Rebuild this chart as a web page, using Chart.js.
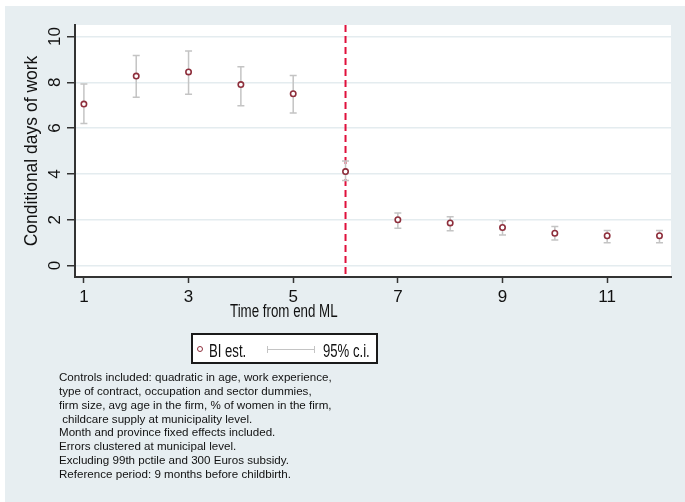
<!DOCTYPE html>
<html>
<head>
<meta charset="utf-8">
<script src="https://cdn.jsdelivr.net/npm/chart.js@4.4.1/dist/chart.umd.min.js"></script>
<style>
  html, body { margin: 0; padding: 0; background: #fff; }
  #wrap { position: relative; width: 685px; height: 502px; overflow: hidden; }
  #panel { position: absolute; left: 5px; top: 6px; width: 680px; height: 496px; background: #e7eef1; }
  #chart { position: absolute; left: 0; top: 0; }
  .sq { font-family: "Liberation Sans", Arial, sans-serif; color: #111; white-space: nowrap; line-height: 1; }
  #xtitle { position: absolute; left: 230px; top: 302px; font-size: 18px; transform: scaleX(0.74); transform-origin: 0 0; }
  #legend { position: absolute; left: 191px; top: 333px; width: 187px; height: 31px; box-sizing: border-box; border: 2px solid #1a1a1a; background: #fff; }
  #legend .mk { position: absolute; left: 4px; top: 11px; width: 4px; height: 4px; border: 1.5px solid #8e2f3c; border-radius: 50%; }
  #legend .lbl { position: absolute; top: 7px; font-size: 18px; transform: scaleX(0.73); transform-origin: 0 0; }
  #legend .ci { position: absolute; left: 74px; top: 14px; width: 48px; height: 1px; background: #c4c4c4; }
  #legend .cap { position: absolute; top: -3px; width: 1px; height: 7px; background: #c4c4c4; }
  #notes { position: absolute; left: 59px; top: 370px; font-family: "Liberation Sans", Arial, sans-serif; font-size: 11.6px; line-height: 13.85px; color: #111; white-space: pre; }
</style>
</head>
<body>
<div id="wrap">
  <div id="panel"></div>
  <canvas id="chart" width="685" height="502"></canvas>
  <div id="xtitle" class="sq">Time from end ML</div>
  <div id="legend">
    <div class="mk"></div>
    <div class="lbl sq" style="left:16px">BI est.</div>
    <div class="ci"><div class="cap" style="left:0"></div><div class="cap" style="right:0"></div></div>
    <div class="lbl sq" style="left:130px">95% c.i.</div>
  </div>
  <div id="notes"></div>
</div>
<script>
// data
const timeSteps = [1, 2, 3, 4, 5, 6, 7, 8, 9, 10, 11, 12];
const estimates = [7.05, 8.27, 8.45, 7.9, 7.5, 4.1, 2.0, 1.86, 1.66, 1.41, 1.3, 1.3];
const ciLower = [6.2, 7.35, 7.48, 6.97, 6.66, 3.71, 1.63, 1.52, 1.33, 1.12, 1.0, 1.0];
const ciUpper = [7.92, 9.17, 9.37, 8.68, 8.3, 4.56, 2.29, 2.13, 1.95, 1.7, 1.53, 1.53];
const xTickValues = [1, 3, 5, 7, 9, 11];
const yTickValues = [0, 2, 4, 6, 8, 10];
const cutoffTime = 6;
const noteLines = [
  'Controls included: quadratic in age, work experience,',
  'type of contract, occupation and sector dummies,',
  'firm size, avg age in the firm, % of women in the firm,',
  ' childcare supply at municipality level.',
  'Month and province fixed effects included.',
  'Errors clustered at municipal level.',
  'Excluding 99th pctile and 300 Euros subsidy.',
  'Reference period: 9 months before childbirth.'
];

document.getElementById('notes').textContent = noteLines.join('\n');

const sansFont = '"Liberation Sans", Arial, sans-serif';

// white plot region, cutoff line and CI whiskers
const plotDecor = {
  id: 'plotDecor',
  beforeDraw(chart) {
    const { ctx, chartArea: a } = chart;
    ctx.save();
    ctx.fillStyle = '#fff';
    ctx.fillRect(a.left, a.top, a.right - a.left, a.bottom - a.top);
    ctx.restore();
  },
  beforeDatasetsDraw(chart) {
    const { ctx, chartArea: a, scales: { x, y } } = chart;
    ctx.save();
    // dashed vertical line
    const cx = x.getPixelForValue(cutoffTime);
    ctx.strokeStyle = '#e0103c';
    ctx.lineWidth = 2;
    ctx.setLineDash([7, 4]);
    ctx.beginPath();
    ctx.moveTo(cx, a.top);
    ctx.lineTo(cx, a.bottom);
    ctx.stroke();
    ctx.setLineDash([]);
    // error bars
    ctx.strokeStyle = '#c4c4c4';
    ctx.lineWidth = 1.5;
    timeSteps.forEach((t, i) => {
      const px = x.getPixelForValue(t);
      const lo = y.getPixelForValue(ciLower[i]);
      const hi = y.getPixelForValue(ciUpper[i]);
      ctx.beginPath();
      ctx.moveTo(px, lo); ctx.lineTo(px, hi);
      ctx.moveTo(px - 3.5, lo); ctx.lineTo(px + 3.5, lo);
      ctx.moveTo(px - 3.5, hi); ctx.lineTo(px + 3.5, hi);
      ctx.stroke();
    });
    ctx.restore();
  }
};

new Chart(document.getElementById('chart'), {
  type: 'scatter',
  data: {
    datasets: [{
      label: 'BI est.',
      data: timeSteps.map((t, i) => ({ x: t, y: estimates[i] })),
      pointStyle: 'circle',
      pointRadius: 2.7,
      pointBorderWidth: 1.6,
      pointBorderColor: '#8e2f3c',
      pointBackgroundColor: '#fff',
      showLine: false
    }]
  },
  options: {
    responsive: false,
    animation: false,
    devicePixelRatio: 1,
    layout: { padding: { left: 0, top: 25, right: 14, bottom: 195 } },
    plugins: { legend: { display: false }, tooltip: { enabled: false } },
    scales: {
      x: {
        type: 'linear',
        min: 0.83,
        max: 12.22,
        afterBuildTicks: s => { s.ticks = xTickValues.map(v => ({ value: v })); },
        afterFit: s => { s.height = 30; },
        grid: { drawOnChartArea: false, drawTicks: true, tickLength: 6, tickColor: '#333', tickWidth: 1.5 },
        border: { color: '#333', width: 2 },
        ticks: { font: { family: sansFont, size: 17 }, color: '#111', padding: 4, maxRotation: 0 }
      },
      y: {
        min: -0.5,
        max: 10.5,
        afterBuildTicks: s => { s.ticks = yTickValues.map(v => ({ value: v })); },
        afterFit: s => { s.width = 75; },
        grid: { color: '#e4ecef', lineWidth: 1.5, tickLength: 8, tickColor: '#333', tickWidth: 1.5 },
        border: { color: '#333', width: 2 },
        ticks: { font: { family: sansFont, size: 17 }, color: '#111', padding: 2, minRotation: 90, maxRotation: 90, crossAlign: 'center' },
        title: {
          display: true,
          text: 'Conditional days of work',
          font: { family: sansFont, size: 17.5 },
          color: '#111',
          padding: { top: 22, bottom: 0 }
        }
      }
    }
  },
  plugins: [plotDecor]
});
</script>
</body>
</html>
